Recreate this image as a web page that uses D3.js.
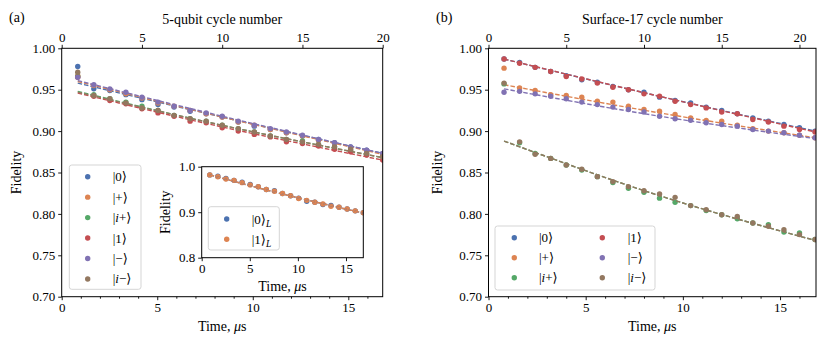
<!DOCTYPE html>
<html>
<head>
<meta charset="utf-8">
<script src="https://cdn.jsdelivr.net/npm/d3@7"></script>
<style>
body { margin: 0; background: #fff; }
text { font-family: "Liberation Serif", "DejaVu Serif", serif; font-size: 13px; fill: #000; }
text.lab { font-size: 14px; }
</style>
</head>
<body>
<svg id="chart" width="830" height="348"></svg>
<script>
// states and colours (seaborn deep)
var states = ["0", "+", "i+", "1", "\u2212", "i\u2212"];
var colors = ["#4C72B0", "#DD8452", "#55A868", "#C44E52", "#8172B3", "#937860"];

// (a) 5-qubit, one cycle = 0.84 us
var cycleTimeA = 0.84;
var cyclesA = [1, 2, 3, 4, 5, 6, 7, 8, 9, 10, 11, 12, 13, 14, 15, 16, 17, 18, 19, 20];
var fidA_0  = [0.978, 0.951, 0.949, 0.944, 0.938, 0.932, 0.929, 0.924, 0.921, 0.917, 0.911, 0.906, 0.902, 0.898, 0.894, 0.890, 0.886, 0.881, 0.877, 0.873];
var fidA_p  = [0.967, 0.955, 0.950, 0.945, 0.940, 0.934, 0.930, 0.925, 0.921, 0.917, 0.911, 0.907, 0.902, 0.898, 0.894, 0.889, 0.885, 0.880, 0.876, 0.872];
var fidA_ip = [0.966, 0.944, 0.939, 0.935, 0.930, 0.925, 0.919, 0.915, 0.912, 0.907, 0.903, 0.899, 0.894, 0.890, 0.888, 0.884, 0.881, 0.877, 0.873, 0.869];
var fidA_1  = [0.965, 0.942, 0.937, 0.933, 0.927, 0.922, 0.918, 0.912, 0.910, 0.904, 0.900, 0.896, 0.893, 0.887, 0.885, 0.882, 0.878, 0.875, 0.871, 0.865];
var fidA_m  = [0.965, 0.956, 0.951, 0.947, 0.941, 0.935, 0.930, 0.925, 0.922, 0.918, 0.912, 0.907, 0.903, 0.899, 0.895, 0.890, 0.886, 0.881, 0.877, 0.873];
var fidA_im = [0.971, 0.943, 0.939, 0.934, 0.928, 0.925, 0.919, 0.915, 0.912, 0.907, 0.903, 0.899, 0.894, 0.890, 0.887, 0.884, 0.881, 0.878, 0.873, 0.869];
// fitted curves, read at cycles 1, 10, 20
var fitCyclesA = [1, 10, 20];
var fitA_0  = [0.958, 0.917, 0.873];
var fitA_p  = [0.960, 0.917, 0.872];
var fitA_ip = [0.948, 0.907, 0.868];
var fitA_1  = [0.946, 0.905, 0.865];
var fitA_m  = [0.961, 0.918, 0.873];
var fitA_im = [0.947, 0.907, 0.868];

// inset: logical states
var insetStates = ["0", "1"];
var insetColors = ["#4C72B0", "#DD8452"];
var fidL_0 = [0.982, 0.979, 0.974, 0.970, 0.966, 0.961, 0.956, 0.950, 0.947, 0.941, 0.936, 0.931, 0.924, 0.922, 0.917, 0.915, 0.911, 0.907, 0.903, 0.899];
var fidL_1 = [0.982, 0.978, 0.973, 0.970, 0.965, 0.960, 0.956, 0.950, 0.946, 0.941, 0.936, 0.930, 0.926, 0.922, 0.918, 0.913, 0.911, 0.907, 0.903, 0.899];
var fitL_0 = [0.982, 0.940, 0.898];
var fitL_1 = [0.982, 0.940, 0.898];

// (b) Surface-17, one cycle = 0.8 us
var cycleTimeB = 0.8;
var cyclesB = [1, 2, 3, 4, 5, 6, 7, 8, 9, 10, 11, 12, 13, 14, 15, 16, 17, 18, 19, 20, 21];
var fidB_0  = [0.987, 0.983, 0.977, 0.972, 0.967, 0.962, 0.959, 0.954, 0.950, 0.947, 0.941, 0.937, 0.934, 0.929, 0.925, 0.921, 0.916, 0.912, 0.908, 0.904, 0.900];
var fidB_p  = [0.976, 0.952, 0.949, 0.944, 0.943, 0.941, 0.936, 0.935, 0.930, 0.926, 0.924, 0.920, 0.916, 0.913, 0.912, 0.907, 0.903, 0.900, 0.898, 0.895, 0.892];
var fidB_ip = [0.957, 0.886, 0.873, 0.867, 0.859, 0.853, 0.845, 0.838, 0.831, 0.826, 0.819, 0.814, 0.810, 0.804, 0.799, 0.794, 0.789, 0.787, 0.778, 0.777, 0.769];
var fidB_1  = [0.987, 0.982, 0.977, 0.972, 0.966, 0.963, 0.958, 0.953, 0.950, 0.945, 0.942, 0.936, 0.932, 0.928, 0.923, 0.921, 0.914, 0.911, 0.906, 0.902, 0.899];
var fidB_m  = [0.947, 0.948, 0.945, 0.942, 0.939, 0.935, 0.932, 0.929, 0.926, 0.923, 0.918, 0.915, 0.913, 0.910, 0.908, 0.906, 0.902, 0.900, 0.898, 0.895, 0.892];
var fidB_im = [0.958, 0.887, 0.872, 0.867, 0.859, 0.854, 0.845, 0.839, 0.833, 0.828, 0.824, 0.820, 0.810, 0.805, 0.799, 0.797, 0.789, 0.785, 0.781, 0.775, 0.769];
// fitted curves, read at cycles 1, 11, 21
var fitCyclesB = [1, 11, 21];
var fitB_0  = [0.987, 0.942, 0.900];
var fitB_p  = [0.956, 0.922, 0.892];
var fitB_ip = [0.888, 0.822, 0.768];
var fitB_1  = [0.987, 0.942, 0.899];
var fitB_m  = [0.951, 0.918, 0.891];
var fitB_im = [0.888, 0.822, 0.768];

var timeTicks = [0, 5, 10, 15];
var timeMinor = [1, 2, 3, 4, 6, 7, 8, 9, 11, 12, 13, 14, 16];
var cycleTicks = [0, 5, 10, 15, 20];
var fidTicks = [0.70, 0.75, 0.80, 0.85, 0.90, 0.95, 1.00];
var insetFidTicks = [0.8, 0.9, 1.0];

var svg = d3.select("#chart");

// ket label: |0>, |i+>, |0>_L ...
function ket(sel, state, sub) {
  sel.append("tspan").text("|");
  if (state.charAt(0) == "i") {
    sel.append("tspan").attr("font-style", "italic").text("i");
    sel.append("tspan").text(state.slice(1));
  } else {
    sel.append("tspan").text(state);
  }
  sel.append("tspan").attr("font-family", "DejaVu Serif").attr("font-size", "13px").text("\u27E9");
  if (sub) sel.append("tspan").attr("font-style", "italic").attr("font-size", "9.5px").attr("dy", 3).text(sub);
}

function timeLabel(g, cx, cy) {
  var t = g.append("text").attr("class", "lab").attr("x", cx).attr("y", cy).attr("text-anchor", "middle");
  t.append("tspan").text("Time, ");
  t.append("tspan").attr("font-style", "italic").text("\u03BC");
  t.append("tspan").text("s");
}

function dashedFit(g, x, y, cycles, ct, vals, color) {
  var line = d3.line()
    .x(function(d, i) { return x(cycles[i] * ct); })
    .y(function(d) { return y(d); })
    .curve(d3.curveNatural);
  g.append("path").attr("d", line(vals))
    .attr("fill", "none").attr("stroke", color)
    .attr("stroke-width", 1.4).attr("stroke-dasharray", "4.5,2");
}

function scatter(g, x, y, cycles, ct, vals, color) {
  g.selectAll(null).data(vals).enter().append("circle")
    .attr("cx", function(d, i) { return x(cycles[i] * ct); })
    .attr("cy", function(d) { return y(d); })
    .attr("r", 2.7).attr("fill", color);
}

function styleAxis(a) {
  a.select(".domain").remove();
  a.selectAll("line").attr("stroke", "#000").attr("stroke-width", 0.9);
  a.selectAll("text").attr("fill", "#000").attr("font-size", "13px")
    .attr("font-family", "Liberation Serif, DejaVu Serif, serif");
}

function panel(p) {
  var g = svg.append("g");
  var x = d3.scaleLinear().domain([0, p.tmax]).range([p.left, p.right]);
  var xTop = d3.scaleLinear().domain([0, p.tmax / p.ct]).range([p.left, p.right]);
  var y = d3.scaleLinear().domain([0.70, 1.00]).range([p.bottom, p.top]);

  svg.append("clipPath").attr("id", p.id + "clip").append("rect")
    .attr("x", p.left).attr("y", p.top).attr("width", p.right - p.left).attr("height", p.bottom - p.top);

  var plot = g.append("g").attr("clip-path", "url(#" + p.id + "clip)");
  p.series.forEach(function(s, i) {
    scatter(plot, x, y, p.cycles, p.ct, s, colors[i]);
    dashedFit(plot, x, y, p.fitCycles, p.ct, p.fits[i], colors[i]);
  });

  g.append("rect").attr("x", p.left).attr("y", p.top)
    .attr("width", p.right - p.left).attr("height", p.bottom - p.top)
    .attr("fill", "none").attr("stroke", "#000").attr("stroke-width", 1);

  styleAxis(g.append("g").attr("transform", "translate(0," + p.bottom + ")")
    .call(d3.axisBottom(x).tickValues(timeTicks).tickSize(3.5).tickPadding(3).tickFormat(d3.format("d"))));
  styleAxis(g.append("g").attr("transform", "translate(0," + p.bottom + ")")
    .call(d3.axisBottom(x).tickValues(timeMinor).tickSize(2).tickFormat("")));
  styleAxis(g.append("g").attr("transform", "translate(0," + p.top + ")")
    .call(d3.axisTop(xTop).tickValues(cycleTicks).tickSize(3.5).tickPadding(3).tickFormat(d3.format("d"))));
  styleAxis(g.append("g").attr("transform", "translate(" + p.left + ",0)")
    .call(d3.axisLeft(y).tickValues(fidTicks).tickSize(3.5).tickPadding(3).tickFormat(d3.format(".2f"))));

  g.append("text").attr("class", "lab").attr("x", (p.left + p.right) / 2).attr("y", 24).attr("text-anchor", "middle").text(p.title);
  g.append("text").attr("class", "lab").attr("x", p.tag[0]).attr("y", 22).text(p.tag[1]);
  timeLabel(g, (p.left + p.right) / 2, 331);
  g.append("text").attr("class", "lab").attr("transform", "translate(" + p.ylabX + "," + ((p.top + p.bottom) / 2) + ") rotate(-90)")
    .attr("text-anchor", "middle").text("Fidelity");
  return g;
}

function legend(g, box, entries) {
  g.append("rect").attr("x", box[0]).attr("y", box[1]).attr("width", box[2]).attr("height", box[3])
    .attr("rx", 2.5).attr("fill", "#fff").attr("fill-opacity", 0.8)
    .attr("stroke", "#d5d5d5").attr("stroke-width", 1);
  entries.forEach(function(e) {
    g.append("circle").attr("cx", e.mx).attr("cy", e.y).attr("r", 2.7).attr("fill", e.color);
    var t = g.append("text").attr("x", e.tx).attr("y", e.y + 4.5);
    ket(t, e.state, e.sub);
  });
}

// panel (a)
var gA = panel({
  id: "a", left: 61.7, right: 382.7, top: 48.3, bottom: 296.7,
  tmax: 16.8, ct: cycleTimeA, cycles: cyclesA, fitCycles: fitCyclesA,
  series: [fidA_0, fidA_p, fidA_ip, fidA_1, fidA_m, fidA_im],
  fits: [fitA_0, fitA_p, fitA_ip, fitA_1, fitA_m, fitA_im],
  title: "5-qubit cycle number", tag: [9, "(a)"], ylabX: 21
});
legend(gA, [69.3, 165, 71.7, 124.3], states.map(function(s, i) {
  return { state: s, color: colors[i], mx: 87.7, tx: 112.7, y: 176.7 + i * 20.45 };
}));

// inset of (a)
(function() {
  var L = 201.7, R = 363.3, T = 166.7, B = 257.7;
  var x = d3.scaleLinear().domain([0, 16.8]).range([L, R]);
  var y = d3.scaleLinear().domain([0.8, 1.0]).range([B, T]);
  var g = gA.append("g");
  g.append("rect").attr("x", L).attr("y", T).attr("width", R - L).attr("height", B - T).attr("fill", "#fff");
  svg.append("clipPath").attr("id", "insclip").append("rect")
    .attr("x", L).attr("y", T).attr("width", R - L).attr("height", B - T);
  var plot = g.append("g").attr("clip-path", "url(#insclip)");
  [fidL_0, fidL_1].forEach(function(s, i) {
    scatter(plot, x, y, cyclesA, cycleTimeA, s, insetColors[i]);
  });
  [fitL_0, fitL_1].forEach(function(s, i) {
    dashedFit(plot, x, y, fitCyclesA, cycleTimeA, s, insetColors[i]);
  });
  g.append("rect").attr("x", L).attr("y", T).attr("width", R - L).attr("height", B - T)
    .attr("fill", "none").attr("stroke", "#000").attr("stroke-width", 1);
  styleAxis(g.append("g").attr("transform", "translate(0," + B + ")")
    .call(d3.axisBottom(x).tickValues(timeTicks).tickSize(3.5).tickPadding(3).tickFormat(d3.format("d"))));
  styleAxis(g.append("g").attr("transform", "translate(" + L + ",0)")
    .call(d3.axisLeft(y).tickValues(insetFidTicks).tickSize(3.5).tickPadding(3).tickFormat(d3.format(".1f"))));
  timeLabel(g, (L + R) / 2, 291);
  g.append("text").attr("class", "lab").attr("transform", "translate(170," + ((T + B) / 2) + ") rotate(-90)")
    .attr("text-anchor", "middle").text("Fidelity");
  legend(g, [208.3, 206.7, 71, 43.3], insetStates.map(function(s, i) {
    return { state: s, sub: "L", color: insetColors[i], mx: 226.7, tx: 251.7, y: 219 + i * 20.3 };
  }));
})();

// panel (b)
var gB = panel({
  id: "b", left: 488.5, right: 816, top: 48.3, bottom: 296.7,
  tmax: 16.85, ct: cycleTimeB, cycles: cyclesB, fitCycles: fitCyclesB,
  series: [fidB_0, fidB_p, fidB_ip, fidB_1, fidB_m, fidB_im],
  fits: [fitB_0, fitB_p, fitB_ip, fitB_1, fitB_m, fitB_im],
  title: "Surface-17 cycle number", tag: [436, "(b)"], ylabX: 442
});
legend(gB, [495, 226, 160, 64], states.map(function(s, i) {
  var col = Math.floor(i / 3), row = i % 3;
  return { state: s, color: colors[i], mx: 514.3 + col * 88, tx: 539 + col * 88.7, y: 237.7 + row * 20 };
}));
</script>
</body>
</html>
